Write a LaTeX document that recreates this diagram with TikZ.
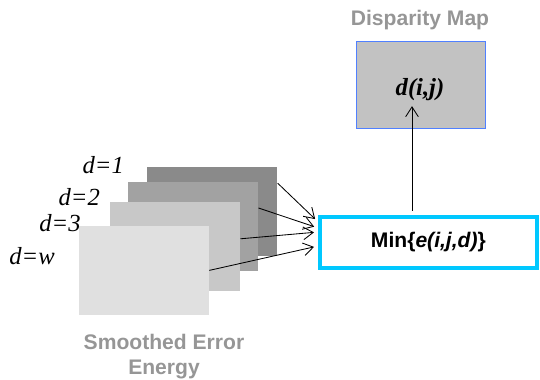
\documentclass[tikz,border=0pt]{standalone}
\usepackage{fontspec}
\setmainfont{Liberation Serif}
\setsansfont{Liberation Sans}
\usetikzlibrary{arrows.meta,positioning}

\definecolor{layerA}{RGB}{138,138,138}
\definecolor{layerB}{RGB}{162,162,162}
\definecolor{layerC}{RGB}{200,200,200}
\definecolor{layerD}{RGB}{224,224,224}
\definecolor{mapfill}{RGB}{194,194,194}
\definecolor{mapdraw}{RGB}{80,128,255}
\definecolor{minblue}{RGB}{0,200,255}
\definecolor{titlegray}{RGB}{150,150,150}

\begin{document}
\begin{tikzpicture}[
    % Block styles
    layer/.style={
        rectangle,
        draw=none,
        minimum width=3.25cm,
        minimum height=2.22cm
    },
    mapblock/.style={
        rectangle,
        draw=mapdraw,
        thin,
        fill=mapfill,
        minimum width=3.22cm,
        minimum height=2.17cm
    },
    minblock/.style={
        rectangle,
        draw=minblue,
        line width=2.6pt,
        fill=white,
        minimum width=5.42cm,
        minimum height=1.28cm,
        font=\sffamily\bfseries\fontsize{15}{18}\selectfont
    },
    dlabel/.style={font=\itshape\fontsize{17.5}{20}\selectfont},
    title/.style={text=titlegray, align=center,
        font=\sffamily\bfseries\fontsize{15}{18}\selectfont},
    line/.style={draw, line width=0.6pt, -{Straight Barb[length=7pt,width=9pt]}}
]
\useasboundingbox (0,0) rectangle (13.5,9.5);

% Error energy layers
\node[layer, fill=layerA] (layer1) at (5.31,4.21) {};
\node[layer, fill=layerB] (layer2) at (4.83,3.84) {};
\node[layer, fill=layerC] (layer3) at (4.38,3.34) {};
\node[layer, fill=layerD] (layer4) at (3.60,2.74) {};

\node[dlabel] (lab1) at (2.58,5.37) {d=1};
\node[dlabel] (lab2) at (1.98,4.58) {d=2};
\node[dlabel] (lab3) at (1.50,3.93) {d=3};
\node[dlabel] (lab4) at (0.80,3.10) {d=w};

\node[title] (energy) at (4.10,0.58) {Smoothed Error\\Energy};

% Minimum and disparity map
\node[minblock] (minimum) at (10.71,3.44) {Min\{\textit{e(i,j,d)}\}};

\node[mapblock] (dmap) at (10.51,7.39) {};
\node[font=\bfseries\itshape\fontsize{17.5}{20}\selectfont] (dval) at (10.50,7.25) {d(i,j)};
\node[title] (maptitle) at (10.50,9.00) {Disparity Map};

% Connections
\draw[line, shorten >=3pt] ([yshift=0.71cm]layer1.east) -- ([yshift=0.51cm]minimum.west);
\draw[line, shorten >=3pt] ([yshift=0.46cm]layer2.east) -- ([yshift=0.36cm]minimum.west);
\draw[line, shorten >=3pt] ([yshift=0.19cm]layer3.east) -- ([yshift=0.26cm]minimum.west);
\draw[line, shorten >=3pt] (layer4.east) -- ([yshift=-0.09cm]minimum.west);

\coordinate (upstart) at ([xshift=-0.41cm, yshift=0.1cm]minimum.north);
\draw[line] (upstart) -- (upstart |- dval.south);

\end{tikzpicture}
\end{document}
